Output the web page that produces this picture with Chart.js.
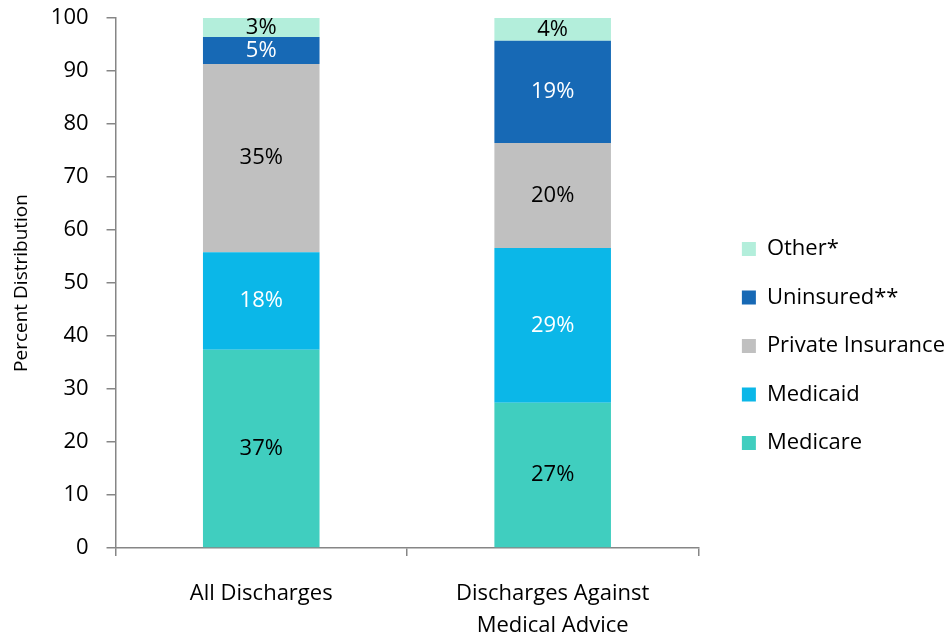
<!DOCTYPE html>
<html>
<head>
<meta charset="utf-8">
<script src="https://cdn.jsdelivr.net/npm/chart.js@4.4.0/dist/chart.umd.min.js"></script>
<style>
  html, body { margin: 0; padding: 0; background: #fff; }
  #wrap { width: 952px; height: 637px; }
</style>
</head>
<body>
<div id="wrap"><canvas id="myChart" width="952" height="637"></canvas></div>
<script>
// categories (x axis)
const categories = ['All Discharges', ['Discharges Against', 'Medical Advice']];

// percent values, stacked bottom to top
const medicare   = [37.4, 27.4];
const medicaid   = [18.4, 29.2];
const privateIns = [35.5, 19.8];
const uninsured  = [5.1, 19.3];
const other      = [3.6, 4.3];

// printed labels inside bars
const medicareLabels  = ['37%', '27%'];
const medicaidLabels  = ['18%', '29%'];
const privateLabels   = ['35%', '20%'];
const uninsuredLabels = ['5%', '19%'];
const otherLabels     = ['3%', '4%'];

const yTicks = [0, 10, 20, 30, 40, 50, 60, 70, 80, 90, 100];

const FONT = '"Open Sans", "Liberation Sans", sans-serif';

// draw the percent text in the middle of each segment
const barText = {
  id: 'barText',
  afterDatasetsDraw(chart) {
    const ctx = chart.ctx;
    ctx.save();
    ctx.font = '22px ' + FONT;
    ctx.textAlign = 'center';
    ctx.textBaseline = 'middle';
    chart.data.datasets.forEach((ds, i) => {
      const meta = chart.getDatasetMeta(i);
      meta.data.forEach((bar, j) => {
        ctx.fillStyle = ds.textColor;
        ctx.fillText(ds.valueLabels[j], bar.x, (bar.y + bar.base) / 2);
      });
    });
    ctx.restore();
  }
};

const ctx = document.getElementById('myChart');

new Chart(ctx, {
  type: 'bar',
  data: {
    labels: categories,
    datasets: [
      { label: 'Medicare', data: medicare, backgroundColor: '#40cebf', valueLabels: medicareLabels, textColor: '#000' },
      { label: 'Medicaid', data: medicaid, backgroundColor: '#0bb7e8', valueLabels: medicaidLabels, textColor: '#fff' },
      { label: 'Private Insurance', data: privateIns, backgroundColor: '#c0c0c0', valueLabels: privateLabels, textColor: '#000' },
      { label: 'Uninsured**', data: uninsured, backgroundColor: '#1769b5', valueLabels: uninsuredLabels, textColor: '#fff' },
      { label: 'Other*', data: other, backgroundColor: '#b3eedb', valueLabels: otherLabels, textColor: '#000' }
    ]
  },
  options: {
    responsive: false,
    animation: false,
    layout: { padding: { top: 18, left: 3, right: -3, bottom: 0 } },
    datasets: {
      bar: { barPercentage: 0.4, categoryPercentage: 1 }
    },
    scales: {
      x: {
        stacked: true,
        border: { color: '#868686', width: 1.5 },
        grid: { display: true, drawOnChartArea: false, drawTicks: true, tickLength: 8, color: '#868686', lineWidth: 1.5 },
        ticks: { color: '#000', font: { family: FONT, size: 22, lineHeight: 1.45 }, padding: 22, maxRotation: 0 },
        afterFit: (s) => { s.height = 89; }
      },
      y: {
        stacked: true,
        min: 0,
        max: 100,
        afterBuildTicks: (axis) => { axis.ticks = yTicks.map(v => ({ value: v })); },
        afterFit: (s) => { s.paddingTop = 0; s.paddingBottom = 0; },
        border: { color: '#868686', width: 1.5 },
        grid: { display: true, drawOnChartArea: false, drawTicks: true, tickLength: 9, color: '#868686', lineWidth: 1.5 },
        ticks: { color: '#000', font: { family: FONT, size: 22 }, padding: 18 },
        title: { display: true, text: 'Percent Distribution', color: '#000', font: { family: FONT, size: 19 }, padding: { top: 7, bottom: 0 } }
      },
      // empty spacer between plot and legend
      y2: {
        position: 'right',
        display: true,
        grid: { display: false },
        border: { display: false },
        ticks: { display: false },
        afterFit: (s) => { s.width = 17; }
      }
    },
    plugins: {
      legend: {
        position: 'right',
        reverse: true,
        maxWidth: 320,
        title: { display: true, text: ' ', padding: 7, font: { size: 19 } },
        labels: {
          boxWidth: 14,
          boxHeight: 14,
          padding: 26.5,
          color: '#000',
          font: { family: FONT, size: 22 }
        }
      },
      tooltip: { enabled: false }
    }
  },
  plugins: [barText]
});
</script>
</body>
</html>
